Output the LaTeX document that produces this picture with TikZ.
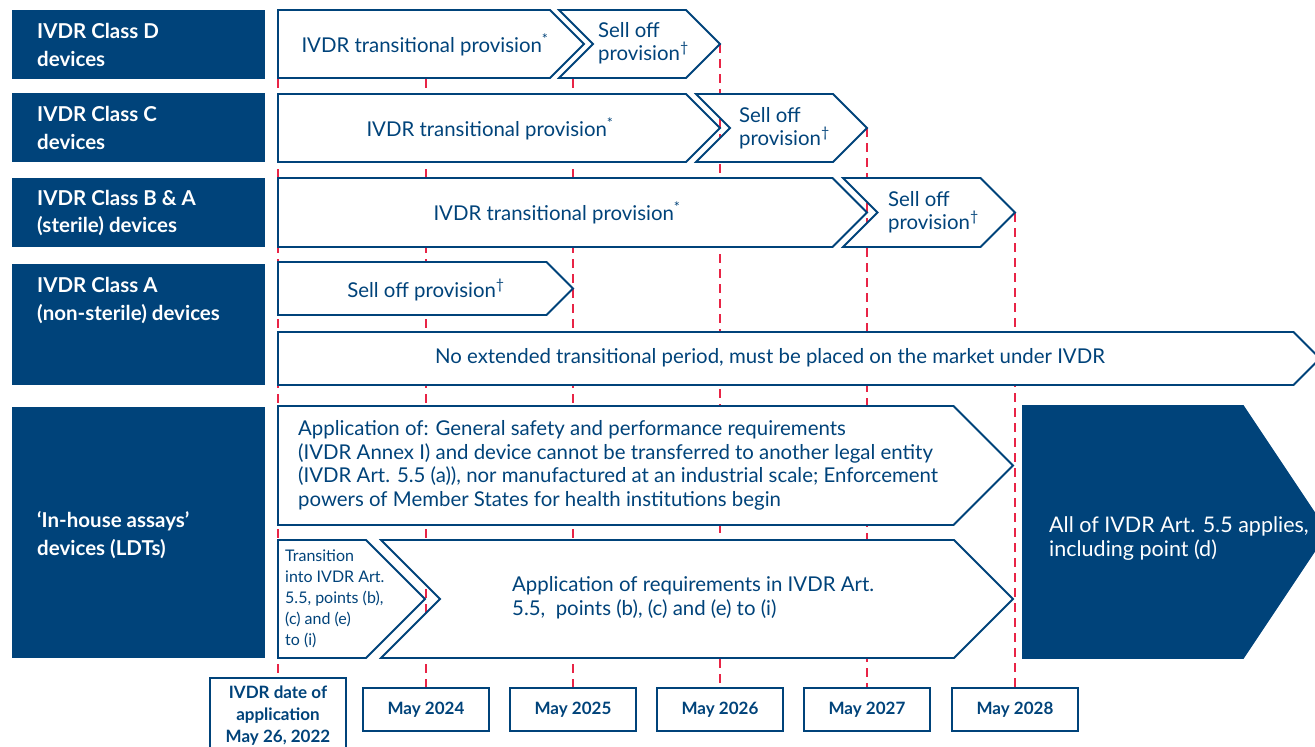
\documentclass[tikz,border=0pt]{standalone}
\usepackage{fontspec}
\setmainfont{Lato}
\definecolor{ivdrblue}{RGB}{0,67,122}
\definecolor{ivdrred}{RGB}{232,36,70}

% arrow band: style, left x, tip x, top y, bottom y, tip depth, notch depth
\newcommand\chevron[7][]{%
  \pgfmathsetmacro\midy{(#4+#5)/2}
  \draw[#1] (#2,#4) -- ({#3-#6},#4) -- (#3,\midy) -- ({#3-#6},#5) -- (#2,#5) -- ({#2+#7},\midy) -- cycle;}

\begin{document}
\begin{tikzpicture}[x=1pt,y=-1pt,
    band/.style={draw=ivdrblue,fill=white,line width=1.8pt},
    classbox/.style={fill=ivdrblue},
    lbl/.style={text=white,font=\fontsize{20.5}{28}\selectfont\bfseries,align=left,anchor=west,inner sep=0pt},
    txt/.style={text=ivdrblue,font=\fontsize{20.4}{23.5}\selectfont,align=left,inner sep=0pt},
    datebox/.style={draw=ivdrblue,line width=1.8pt,fill=white,text=ivdrblue,minimum width=126pt,minimum height=43pt,
      font=\fontsize{17}{20}\selectfont\bfseries,inner sep=0pt},
    deadline/.style={draw=ivdrred,line width=2pt,dash pattern=on 9pt off 6pt}]
  \useasboundingbox (0,0) rectangle (1315,747);
  \clip (0,0) rectangle (1315,747);

  % time axis
  \node[datebox,align=center,minimum width=136pt,minimum height=76pt,anchor=north,font=\fontsize{17}{22}\selectfont\bfseries]
    (d22) at (278,677) {IVDR date of\\application\\May 26, 2022};
  \foreach \yr/\x in {24/426,25/573,26/720,27/867,28/1015}
    \node[datebox] (d\yr) at (\x,709.5) {May 20\yr};
  \coordinate (top22) at (278,79);
  \foreach \yr/\x/\y in {24/426/79,25/573/79,26/720/44,27/867/128,28/1015/213}
    \coordinate (top\yr) at (\x,\y);
  \foreach \yr in {22,24,25,26,27,28}
    \draw[deadline] (top\yr) -- (d\yr.north);

  % device classes
  \fill[classbox] (12,10) rectangle (265,79);
  \fill[classbox] (12,93) rectangle (265,162);
  \fill[classbox] (12,178) rectangle (265,247);
  \fill[classbox] (12,264) rectangle (265,385);
  \fill[classbox] (12,407) rectangle (265,658);
  \node[lbl] (clsD) at (37,45) {IVDR Class D\\devices};
  \node[lbl] (clsC) at (37,128) {IVDR Class C\\devices};
  \node[lbl] (clsB) at (37,213) {IVDR Class B \& A\\(sterile) devices};
  \node[lbl] (clsA) at (37,300) {IVDR Class A\\(non-sterile) devices};
  \node[lbl] (clsL) at (37,535) {`In-house assays'\\devices (LDTs)};

  % provisions per class
  \chevron[band]{278}{584}{10}{78}{34}{0}
  \chevron[band]{559}{720}{10}{78}{34}{34}
  \chevron[band]{278}{720}{94}{162}{34}{0}
  \chevron[band]{696}{867}{94}{162}{34}{34}
  \chevron[band]{278}{867}{178}{247}{34.5}{0}
  \chevron[band]{843}{1015}{178}{247}{34.5}{34.5}
  \chevron[band]{278}{573}{262}{315}{26.5}{0}
  \chevron[band]{278}{1320}{332}{385}{26.5}{0}
  \chevron[band]{278}{1013}{406}{525}{59.5}{0}
  \chevron[band]{278}{425}{540}{658}{59}{0}
  \chevron[band]{381}{1013}{540}{658}{59}{59}
  \chevron[band,fill=ivdrblue]{1023}{1327}{406}{658}{84}{0}

  \node[txt] (tpD) at (425,45) {IVDR transitional provision\textsuperscript{*}};
  \node[txt,anchor=west] (soD) at (598,43) {Sell off\\provision\textsuperscript{\dag}};
  \node[txt] (tpC) at (490,129) {IVDR transitional provision\textsuperscript{*}};
  \node[txt,anchor=west] (soC) at (739,128) {Sell off\\provision\textsuperscript{\dag}};
  \node[txt] (tpB) at (557,213) {IVDR transitional provision\textsuperscript{*}};
  \node[txt,anchor=west] (soB) at (888,212) {Sell off\\provision\textsuperscript{\dag}};
  \node[txt] (soA) at (426,290) {Sell off provision\textsuperscript{\dag}};
  \node[txt] (noext) at (770,358) {No extended transitional period, must be placed on the market under IVDR};
  \node[txt,anchor=west] (gspr) at (298,465.5) {Application of: General safety and performance requirements\\
    (IVDR Annex I) and device cannot be transferred to another legal entity\\
    (IVDR Art. 5.5 (a)), nor manufactured at an industrial scale; Enforcement\\
    powers of Member States for health institutions begin};
  \node[txt,anchor=west,font=\fontsize{16}{21}\selectfont] (trans) at (285,599)
    {Transition\\into IVDR Art.\\5.5, points (b),\\(c) and (e)\\to (i)};
  \node[txt,anchor=west] (reqs) at (512,597.5) {Application of requirements in IVDR Art.\\5.5,~ points (b), (c) and (e) to (i)};
  \node[txt,anchor=west,text=white,font=\fontsize{21.5}{23.5}\selectfont] (all) at (1049,538.5)
    {All of IVDR Art. 5.5 applies,\\including point (d)};
\end{tikzpicture}
\end{document}
